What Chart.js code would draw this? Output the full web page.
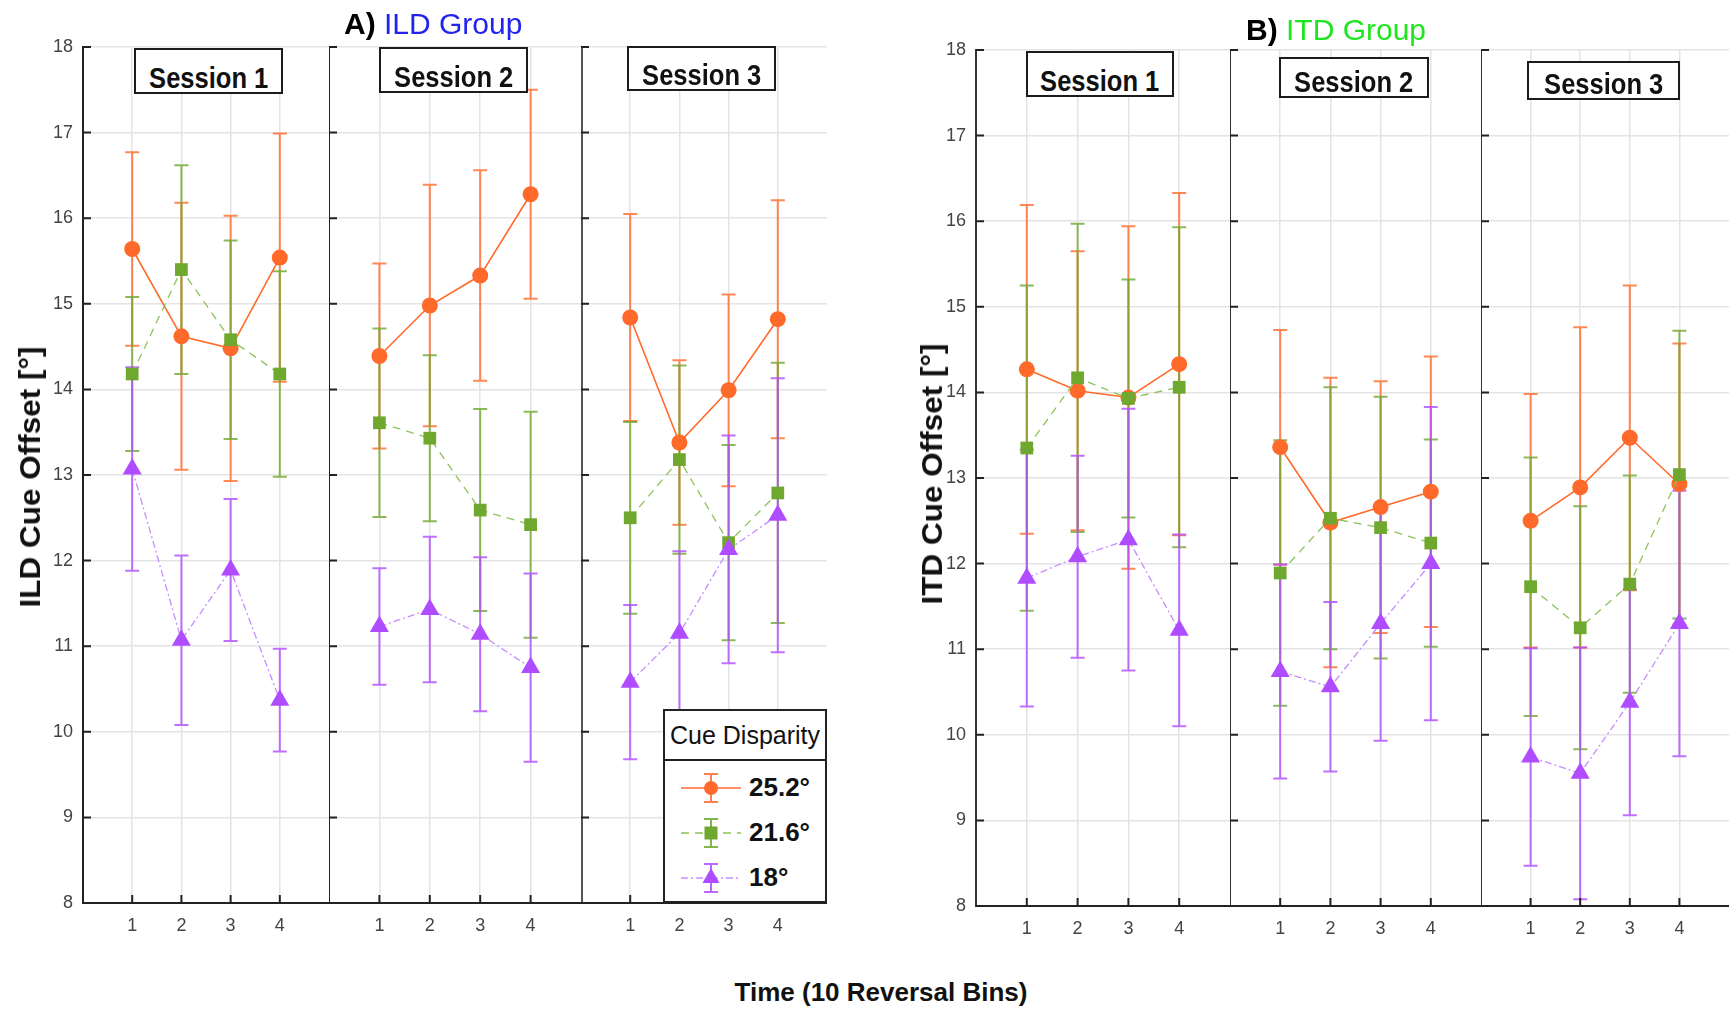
<!DOCTYPE html>
<html>
<head>
<meta charset="utf-8">
<script src="https://cdn.jsdelivr.net/npm/chart.js@4.4.0/dist/chart.umd.min.js"></script>
<style>
body { margin: 0; background: #fff; }
#page { position: relative; width: 1729px; height: 1009px; overflow: hidden; background: #fff;
  font-family: "Liberation Sans Narrow", "Liberation Sans", Arial, sans-serif; }
canvas { position: absolute; top: 0; }
.session { position: absolute; box-sizing: border-box; border: 2px solid #1c1c1c; background: #fff;
  font-weight: bold; font-size: 29px; text-align: center; line-height: 1; color: #111; z-index: 2; white-space: nowrap; }
.session span { display: inline-block; transform: scaleX(0.88); }
.gtitle { position: absolute; font-size: 30px; line-height: 1; white-space: nowrap; z-index: 2; }
.ytitle { position: absolute; font-family: "Liberation Sans", Arial, sans-serif; font-weight: bold; font-size: 30px;
  white-space: nowrap; transform: translate(-50%, -50%) rotate(-90deg) scaleX(1.05); z-index: 2; color: #111; }
.xtitle { position: absolute; font-family: "Liberation Sans", Arial, sans-serif; font-weight: bold; font-size: 26px;
  white-space: nowrap; transform: translate(-50%, -50%); color: #111; }
#legend { position: absolute; left: 663px; top: 709px; width: 164px; height: 194px; box-sizing: border-box;
  border: 2px solid #222; background: #fff; z-index: 3; }
#legend .lt { height: 48px; border-bottom: 2px solid #222; font-size: 25px; text-align: center; line-height: 48px; color: #111; }
#legend .lr { height: 45px; display: flex; align-items: center; }
#legend .lr span { font-weight: bold; font-size: 26px; margin-left: 6px; color: #111; }
</style>
</head>
<body>
<div id="page">
  <canvas id="l1" width="329" height="960" style="left:0px"></canvas>
  <canvas id="l2" width="252" height="960" style="left:329px"></canvas>
  <canvas id="l3" width="246" height="960" style="left:581px"></canvas>
  <canvas id="r1" width="330" height="960" style="left:900px"></canvas>
  <canvas id="r2" width="251" height="960" style="left:1230px"></canvas>
  <canvas id="r3" width="248" height="960" style="left:1481px"></canvas>

  <div class="gtitle" style="left:344px; top:9px;"><b>A)</b>&nbsp;<span style="color:#2323f0">ILD Group</span></div>
  <div class="gtitle" style="left:1246px; top:15px;"><b>B)</b>&nbsp;<span style="color:#1ee61e">ITD Group</span></div>
  <div class="ytitle" style="left:30px; top:477px;">ILD Cue Offset [°]</div>
  <div class="ytitle" style="left:932px; top:474px;">ITD Cue Offset [°]</div>
  <div class="xtitle" style="left:881px; top:992px;">Time (10 Reversal Bins)</div>
  <div id="legend"></div>
</div>
<script>
var bins = [1, 2, 3, 4];
var yTicks = [8, 9, 10, 11, 12, 13, 14, 15, 16, 17, 18];
var sessions = ['Session 1', 'Session 2', 'Session 3'];
var disparities = ['25.2°', '21.6°', '18°'];

// ILD group, one row per session, means and +/- error
var ild252Mean = [[15.64, 14.62, 14.48, 15.54], [14.39, 14.98, 15.33, 16.28], [14.84, 13.38, 13.99, 14.82]];
var ild252Err  = [[1.13, 1.56, 1.55, 1.45], [1.08, 1.41, 1.23, 1.22], [1.21, 0.96, 1.12, 1.39]];
var ild216Mean = [[14.18, 15.40, 14.58, 14.18], [13.61, 13.43, 12.59, 12.42], [12.50, 13.18, 12.21, 12.79]];
var ild216Err  = [[0.90, 1.22, 1.16, 1.20], [1.10, 0.97, 1.18, 1.32], [1.12, 1.10, 1.14, 1.52]];
var ild18Mean  = [[13.07, 11.07, 11.89, 10.37], [11.23, 11.43, 11.14, 10.75], [10.58, 11.15, 12.13, 12.53]];
var ild18Err   = [[1.19, 0.99, 0.83, 0.60], [0.68, 0.85, 0.90, 1.10], [0.90, 0.96, 1.33, 1.60]];

// ITD group
var itd252Mean = [[14.27, 14.02, 13.94, 14.33], [13.36, 12.48, 12.66, 12.84], [12.50, 12.89, 13.47, 12.93]];
var itd252Err  = [[1.92, 1.63, 2.00, 2.00], [1.37, 1.69, 1.47, 1.58], [1.48, 1.87, 1.78, 1.64]];
var itd216Mean = [[13.35, 14.17, 13.93, 14.06], [11.89, 12.53, 12.42, 12.24], [11.73, 11.25, 11.76, 13.04]];
var itd216Err  = [[1.90, 1.80, 1.39, 1.87], [1.55, 1.53, 1.53, 1.21], [1.51, 1.42, 1.27, 1.68]];
var itd18Mean  = [[11.83, 12.08, 12.28, 11.22], [10.74, 10.56, 11.30, 12.00], [9.74, 9.55, 10.38, 11.30]];
var itd18Err   = [[1.50, 1.18, 1.53, 1.12], [1.25, 0.99, 1.37, 1.83], [1.27, 1.47, 1.32, 1.55]];

var styles = [
    { color: '#ff6a2b', line: '#ff6a2b', dash: [], width: 1.6, point: 'circle', radius: 8, order: 3 },
    { color: '#6fa82e', line: '#8cc35a', dash: [8, 6], width: 1.3, point: 'rect', radius: 9, order: 2 },
    { color: '#b04cff', line: '#c68cff', dash: [7, 3, 2, 3], width: 1.3, point: 'triangle', radius: 11, order: 1 }
];

var tickFont = { family: '"Liberation Sans Narrow", "Liberation Sans", Arial', size: 18 };

var errorBars = {
    id: 'errorBars',
    beforeDatasetsDraw: function (chart) {
        var ctx = chart.ctx, xs = chart.scales.x, ys = chart.scales.y;
        chart.data.datasets.forEach(function (ds) {
            ctx.save();
            ctx.strokeStyle = ds.barColor;
            ctx.globalAlpha = 0.8;
            ctx.lineWidth = 2;
            ds.data.forEach(function (p, j) {
                var x = xs.getPixelForValue(p.x);
                var top = ys.getPixelForValue(p.y + ds.errors[j]);
                var bot = ys.getPixelForValue(p.y - ds.errors[j]);
                ctx.beginPath();
                ctx.moveTo(x, top); ctx.lineTo(x, bot);
                ctx.moveTo(x - 7, top); ctx.lineTo(x + 7, top);
                ctx.moveTo(x - 7, bot); ctx.lineTo(x + 7, bot);
                ctx.stroke();
            });
            ctx.restore();
        });
    },
    afterDraw: function (chart) {
        // inward tick marks, like the original figure
        var ctx = chart.ctx, a = chart.chartArea, xs = chart.scales.x, ys = chart.scales.y;
        ctx.save();
        ctx.strokeStyle = '#222';
        ctx.lineWidth = 2;
        ctx.beginPath();
        yTicks.forEach(function (v) {
            var y = ys.getPixelForValue(v);
            ctx.moveTo(a.left, y); ctx.lineTo(a.left + 8, y);
        });
        bins.forEach(function (v) {
            var x = xs.getPixelForValue(v);
            ctx.moveTo(x, a.bottom); ctx.lineTo(x, a.bottom - 8);
        });
        ctx.stroke();
        ctx.restore();
    }
};

function makeDataset(means, errs, k) {
    var st = styles[k];
    return {
        label: disparities[k],
        data: bins.map(function (b, i) { return { x: b, y: means[i] }; }),
        errors: errs,
        barColor: st.color,
        borderColor: st.line,
        borderWidth: st.width,
        borderDash: st.dash,
        pointStyle: st.point,
        pointRadius: st.radius,
        pointBackgroundColor: st.color,
        pointBorderColor: st.color,
        pointBorderWidth: 0,
        order: st.order,
        fill: false,
        tension: 0
    };
}

function makePanel(id, s, group, yWidth, top, bottom, showY, axisColor, axisWidth) {
    var ctx = document.getElementById(id).getContext('2d');
    var H = 960;
    return new Chart(ctx, {
        type: 'line',
        data: {
            datasets: [
                makeDataset(group[0][s], group[1][s], 0),
                makeDataset(group[2][s], group[3][s], 1),
                makeDataset(group[4][s], group[5][s], 2)
            ]
        },
        options: {
            responsive: false,
            animation: false,
            layout: { autoPadding: false, padding: { top: top, right: 0, left: 0, bottom: 0 } },
            plugins: { legend: { display: false }, tooltip: { enabled: false } },
            scales: {
                x: {
                    type: 'linear', min: 0, max: 5,
                    afterBuildTicks: function (sc) { sc.ticks = bins.map(function (v) { return { value: v }; }); },
                    afterFit: function (sc) { sc.height = H - bottom; },
                    grid: { color: '#e4e4e4', lineWidth: 1.5, drawTicks: false },
                    border: { display: true, color: '#222', width: 2 },
                    ticks: { padding: 12, color: '#444', font: tickFont }
                },
                y: {
                    type: 'linear', min: 8, max: 18,
                    afterBuildTicks: function (sc) { sc.ticks = yTicks.map(function (v) { return { value: v }; }); },
                    afterFit: function (sc) { sc.width = yWidth; },
                    grid: { color: '#e4e4e4', lineWidth: 1.5, drawTicks: false },
                    border: { display: true, color: axisColor, width: axisWidth },
                    ticks: { display: showY, padding: 10, color: '#444', font: tickFont }
                }
            }
        },
        plugins: [errorBars]
    });
}

var ildGroup = [ild252Mean, ild252Err, ild216Mean, ild216Err, ild18Mean, ild18Err];
var itdGroup = [itd252Mean, itd252Err, itd216Mean, itd216Err, itd18Mean, itd18Err];

makePanel('l1', 0, ildGroup, 83, 47, 903, true, '#222', 2);
makePanel('l2', 1, ildGroup, 0, 47, 903, false, '#222', 2);
makePanel('l3', 2, ildGroup, 0, 47, 903, false, '#555', 3);
makePanel('r1', 0, itdGroup, 76, 50, 906, true, '#333', 2);
makePanel('r2', 1, itdGroup, 0, 50, 906, false, '#333', 2);
makePanel('r3', 2, itdGroup, 0, 50, 906, false, '#333', 2);

// session labels
var sessionBoxes = [
    [134, 48, 149, 46], [379, 47, 149, 46], [627, 46, 149, 45],
    [1026, 51, 148, 46], [1279, 57, 150, 41], [1527, 61, 153, 39]
];
var page = document.getElementById('page');
sessionBoxes.forEach(function (b, i) {
    var d = document.createElement('div');
    d.className = 'session';
    d.style.left = b[0] + 'px'; d.style.top = b[1] + 'px';
    d.style.width = b[2] + 'px'; d.style.height = b[3] + 'px';
    d.style.paddingTop = (b[3] - 32) + 'px';
    var sp = document.createElement('span');
    sp.textContent = sessions[i % 3];
    d.appendChild(sp);
    page.appendChild(d);
});

// legend with error-bar symbols
function legendIcon(st) {
    var dash = st.dash.length ? ' stroke-dasharray="' + st.dash.join(',') + '"' : '';
    var mark;
    if (st.point === 'circle') mark = '<circle cx="32" cy="20" r="7" fill="' + st.color + '"/>';
    else if (st.point === 'rect') mark = '<rect x="25.5" y="13.5" width="13" height="13" fill="' + st.color + '"/>';
    else mark = '<polygon points="32,10 40.5,25 23.5,25" fill="' + st.color + '"/>';
    return '<svg width="64" height="40" style="margin-left:14px">' +
        '<line x1="2" y1="20" x2="62" y2="20" stroke="' + st.line + '" stroke-width="1.6"' + dash + '/>' +
        '<path d="M32 6 V34 M25 6 H39 M25 34 H39" stroke="' + st.color + '" stroke-width="2" fill="none" opacity="0.85"/>' +
        mark + '</svg>';
}
var lg = document.getElementById('legend');
var html = '<div class="lt">Cue Disparity</div><div style="height:4px"></div>';
disparities.forEach(function (lab, k) {
    html += '<div class="lr">' + legendIcon(styles[k]) + '<span>' + lab + '</span></div>';
});
lg.innerHTML = html;
</script>
</body>
</html>
